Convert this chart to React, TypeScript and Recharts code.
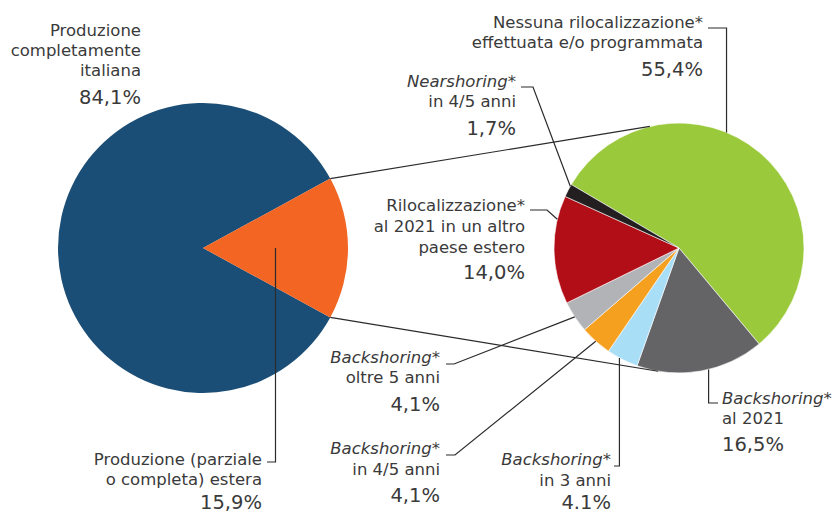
import React from "react";
import { PieChart, Pie, Cell } from "recharts";

// ---- data ----
const leftNames = ["Produzione completamente italiana", "Produzione (parziale o completa) estera"];
const leftValues = [84.1, 15.9];
const leftValueLabels = ["84,1%", "15,9%"];
const leftLabelLines = [
  ["Produzione", "completamente", "italiana"],
  ["Produzione (parziale", "o completa) estera"],
];

const rightNames = [
  "Nessuna rilocalizzazione effettuata e/o programmata",
  "Backshoring al 2021",
  "Backshoring in 3 anni",
  "Backshoring in 4/5 anni",
  "Backshoring oltre 5 anni",
  "Rilocalizzazione al 2021 in un altro paese estero",
  "Nearshoring in 4/5 anni",
];
const rightValues = [55.4, 16.5, 4.1, 4.1, 4.1, 14.0, 1.7];
const rightValueLabels = ["55,4%", "16,5%", "4.1%", "4,1%", "4,1%", "14,0%", "1,7%"];
const rightLabelLines = [
  ["Nessuna rilocalizzazione*", "effettuata e/o programmata"],
  ["Backshoring*", "al 2021"],
  ["Backshoring*", "in 3 anni"],
  ["Backshoring*", "in 4/5 anni"],
  ["Backshoring*", "oltre 5 anni"],
  ["Rilocalizzazione*", "al 2021 in un altro", "paese estero"],
  ["Nearshoring*", "in 4/5 anni"],
];

// ---- styles / layout ----
const leftColors = ["#1B4E76", "#F26522"];
const rightColors = ["#9AC93B", "#646466", "#A9DEF7", "#F6A01F", "#B1B3B6", "#B20E17", "#231F20"];
const FONT = "'DejaVu Sans', sans-serif";
const TEXT_COLOR = "#3a3a3a";
const LINE_COLOR = "#2b2b2b";

const L = { cx: 203, cy: 248, r: 145 };
const R = { cx: 679, cy: 248, r: 125, start: 149.5 };
const connectorAngles = [103.5, -99.6];

type Leader =
  | { kind: "elbow"; x0: number; y: number; frac: number; rf: number }
  | { kind: "diag"; x0: number; x1: number; y: number; frac: number; rf: number };

type LabelLayout = {
  x: number;
  anchor: "start" | "end";
  baselines: number[];
  valueY: number;
  leader?: Leader;
};

const leftLayout: LabelLayout[] = [
  { x: 141, anchor: "end", baselines: [36, 56, 76], valueY: 104 },
  {
    x: 262, anchor: "end", baselines: [465, 484.5], valueY: 509,
    leader: { kind: "elbow", x0: 267, y: 462, frac: 0.5, rf: 0.5 },
  },
];

const rightLayout: LabelLayout[] = [
  { x: 703, anchor: "end", baselines: [28, 48], valueY: 76, leader: { kind: "elbow", x0: 708, y: 28, frac: 0.41, rf: 1 } },
  { x: 722, anchor: "start", baselines: [404, 424], valueY: 451, leader: { kind: "elbow", x0: 718, y: 403, frac: 0.44, rf: 1 } },
  { x: 611, anchor: "end", baselines: [465, 486], valueY: 509, leader: { kind: "elbow", x0: 614, y: 466, frac: 0.6, rf: 1 } },
  { x: 440, anchor: "end", baselines: [454, 475], valueY: 502, leader: { kind: "diag", x0: 446, x1: 455, y: 455, frac: 0.5, rf: 1 } },
  { x: 440, anchor: "end", baselines: [363, 383], valueY: 411, leader: { kind: "diag", x0: 446, x1: 454, y: 364, frac: 0.5, rf: 1 } },
  { x: 525, anchor: "end", baselines: [211, 232, 253], valueY: 279, leader: { kind: "diag", x0: 530, x1: 547, y: 210, frac: 0.78, rf: 1 } },
  { x: 516, anchor: "end", baselines: [87, 107], valueY: 135, leader: { kind: "diag", x0: 521, x1: 533, y: 87, frac: 0.85, rf: 1 } },
];

const RAD = Math.PI / 180;
const polar = (cx: number, cy: number, r: number, deg: number) => ({
  x: cx + r * Math.cos(deg * RAD),
  y: cy - r * Math.sin(deg * RAD),
});

// sector angle ranges, computed like recharts does
function sectorAngles(values: number[], start: number, end: number) {
  const sum = values.reduce((a, b) => a + b, 0);
  const total = end - start;
  let cur = start;
  return values.map((v) => {
    const s = cur;
    const e = cur + (v / sum) * total;
    cur = e;
    return { s, e };
  });
}

const leftStart = (leftValues[1] / (leftValues[0] + leftValues[1])) * 180;
const leftEnd = leftStart + 360;
const rightEnd = R.start - 360;
const leftAngles = sectorAngles(leftValues, leftStart, leftEnd);
const rightAngles = sectorAngles(rightValues, R.start, rightEnd);

function TextLine({ text, x, y, anchor }: { text: string; x: number; y: number; anchor: string }) {
  const m = text.match(/^(Backshoring|Nearshoring)\*$/);
  if (m) {
    return (
      <text x={x} y={y} textAnchor={anchor} fontFamily={FONT} fontSize={16.5} fill={TEXT_COLOR}>
        <tspan fontStyle="italic">{m[1]}</tspan>
        <tspan>*</tspan>
      </text>
    );
  }
  return (
    <text x={x} y={y} textAnchor={anchor} fontFamily={FONT} fontSize={16.5} fill={TEXT_COLOR}>
      {text}
    </text>
  );
}

function renderLabel(
  index: number,
  geo: { cx: number; cy: number; r: number },
  angles: { s: number; e: number }[],
  layout: LabelLayout[],
  lines: string[][],
  valueLabels: string[],
  extra?: React.ReactNode
) {
  const lay = layout[index];
  const a = angles[index];
  let leaderPath: string | null = null;
  if (lay.leader) {
    const ld = lay.leader;
    const ang = a.s + (a.e - a.s) * ld.frac;
    const p = polar(geo.cx, geo.cy, geo.r * ld.rf, ang);
    if (ld.kind === "elbow") {
      leaderPath = `M${ld.x0},${ld.y} H${p.x} V${p.y}`;
    } else {
      leaderPath = `M${ld.x0},${ld.y} H${ld.x1} L${p.x},${p.y}`;
    }
  }
  return (
    <g key={`lbl-${index}`}>
      {extra}
      {leaderPath && <path d={leaderPath} fill="none" stroke={LINE_COLOR} strokeWidth={1.2} />}
      {lines[index].map((t, i) => (
        <TextLine key={i} text={t} x={lay.x} y={lay.baselines[i]} anchor={lay.anchor} />
      ))}
      <text
        x={lay.x}
        y={lay.valueY}
        textAnchor={lay.anchor}
        fontFamily={FONT}
        fontSize={19.5}
        fill={TEXT_COLOR}
      >
        {valueLabels[index]}
      </text>
    </g>
  );
}

function connectors() {
  const a = leftAngles[1];
  const p1 = polar(L.cx, L.cy, L.r, a.e);
  const p2 = polar(L.cx, L.cy, L.r, a.s);
  const q1 = polar(R.cx, R.cy, R.r, connectorAngles[0]);
  const q2 = polar(R.cx, R.cy, R.r, connectorAngles[1]);
  return (
    <g>
      <line x1={p1.x} y1={p1.y} x2={q1.x} y2={q1.y} stroke={LINE_COLOR} strokeWidth={1.2} />
      <line x1={p2.x} y1={p2.y} x2={q2.x} y2={q2.y} stroke={LINE_COLOR} strokeWidth={1.2} />
    </g>
  );
}

const leftData = leftNames.map((n, i) => ({ name: n, value: leftValues[i] }));
const rightData = rightNames.map((n, i) => ({ name: n, value: rightValues[i] }));

export default function App() {
  return (
    <div style={{ position: "absolute", left: 0, top: 0, width: 837, height: 514, background: "#fff" }}>
      <PieChart width={837} height={514} margin={{ top: 0, right: 0, bottom: 0, left: 0 }}>
        <Pie
          data={leftData}
          dataKey="value"
          nameKey="name"
          cx={L.cx}
          cy={L.cy}
          outerRadius={L.r}
          innerRadius={0}
          startAngle={leftStart}
          endAngle={leftEnd}
          stroke="none"
          isAnimationActive={false}
          labelLine={false}
          label={(p: any) =>
            renderLabel(p.index, L, leftAngles, leftLayout, leftLabelLines, leftValueLabels, p.index === 1 ? connectors() : null)
          }
        >
          {leftData.map((d, i) => (
            <Cell key={d.name} fill={leftColors[i]} />
          ))}
        </Pie>
        <Pie
          data={rightData}
          dataKey="value"
          nameKey="name"
          cx={R.cx}
          cy={R.cy}
          outerRadius={R.r}
          innerRadius={0}
          startAngle={R.start}
          endAngle={rightEnd}
          stroke="#ffffff"
          strokeWidth={0.6}
          isAnimationActive={false}
          labelLine={false}
          label={(p: any) => renderLabel(p.index, R, rightAngles, rightLayout, rightLabelLines, rightValueLabels)}
        >
          {rightData.map((d, i) => (
            <Cell key={d.name} fill={rightColors[i]} />
          ))}
        </Pie>
      </PieChart>
    </div>
  );
}
